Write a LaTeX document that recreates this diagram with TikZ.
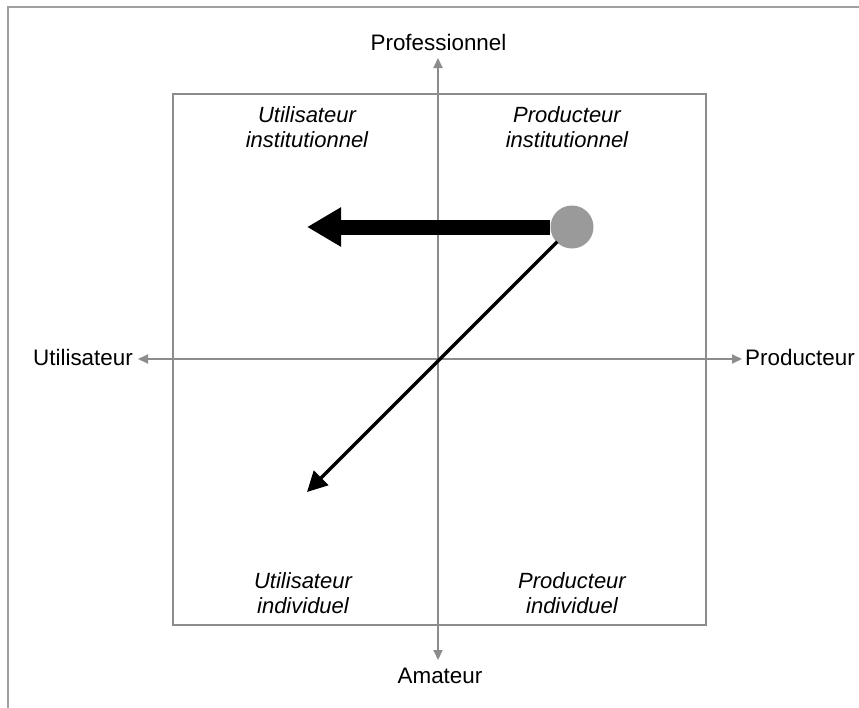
\documentclass[tikz,border=0pt]{standalone}
\usepackage{fontspec}
\setmainfont{Liberation Sans}
\usetikzlibrary{arrows.meta}
\definecolor{axisgray}{HTML}{8C8C8C}
\definecolor{framegray}{HTML}{A0A0A0}
\definecolor{dotgray}{HTML}{9A9A9A}
\begin{document}
\begin{tikzpicture}[x=1pt,y=-1pt,
  axislbl/.style={font=\fontsize{22.4}{25}\selectfont, inner sep=0pt},
  quadlbl/.style={font=\fontsize{22}{25}\selectfont\itshape, align=center, inner sep=0pt, anchor=base},
  axisline/.style={draw=axisgray, line width=2pt, -{Triangle[length=10pt,width=9pt]}},
]
\useasboundingbox (0,0) rectangle (859,707);
% outer frame
\draw[framegray, line width=1.5pt] (8,720) -- (8,7) -- (870,7);
% inner square
\draw[axisgray, line width=1.5pt] (173,94) rectangle (706,625);
% axes
\coordinate (O) at (438,359);
\coordinate (top) at (438,58);
\coordinate (bot) at (438,660);
\coordinate (lft) at (138,359);
\coordinate (rgt) at (742,359);
\draw[axisline] (O) -- (top);
\draw[axisline] (O) -- (bot);
\draw[axisline] (O) -- (lft);
\draw[axisline] (O) -- (rgt);
% axis labels
\node[axislbl, anchor=base] (prof) at (438.5,50) {Professionnel};
\node[axislbl, anchor=base] (amat) at (440,683) {Amateur};
\node[axislbl, anchor=base east] (util) at (133,365) {Utilisateur};
\node[axislbl, anchor=base west] (prod) at (745,365) {Producteur};
% quadrant labels (base = last line)
\node[quadlbl] (ui) at (307,147) {Utilisateur\\institutionnel};
\node[quadlbl] (pi) at (567,147) {Producteur\\institutionnel};
\node[quadlbl] (uind) at (303,613) {Utilisateur\\individuel};
\node[quadlbl] (pind) at (572,613) {Producteur\\individuel};
% arrows
\node[circle, fill=dotgray, minimum size=43pt, inner sep=0pt] (dot) at (572,227) {};
\coordinate (thicktip) at (307,227);
\coordinate (diagtip) at (307,492);
\draw[black, line width=15pt, -{Triangle[length=34pt,width=37pt]}] (dot.west) -- (thicktip);
\draw[black, line width=3.5pt, shorten <=-1pt, -{Triangle[length=20pt,width=20pt]}] (dot.225) -- (diagtip);
\end{tikzpicture}
\end{document}
